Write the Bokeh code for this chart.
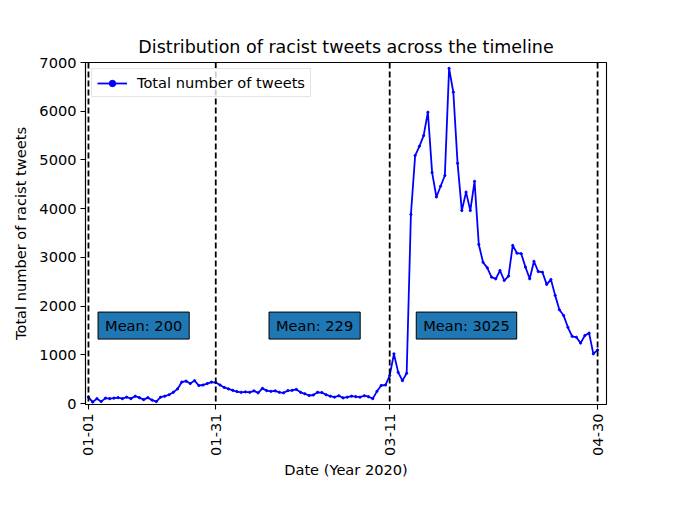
import numpy as np
from bokeh.plotting import figure
from bokeh.models import Span, Label, FixedTicker, Range1d
from bokeh.embed import file_html
from bokeh.resources import INLINE

# Daily number of racist tweets, 2020-01-01 .. 2020-04-30
tweets = [
    130, 30, 100, 40, 110, 100, 110, 120, 100, 130, 100, 150, 120, 80, 120, 70,
    40, 130, 150, 180, 230, 300, 440, 460, 410, 470, 370, 380, 410, 440, 430,
    380, 330, 300, 270, 245, 230, 240, 230, 260, 220,
    310, 265, 250, 260, 230, 220, 265, 270, 290, 230,
    200, 165, 175, 230, 225, 180, 150, 130, 160, 115,
    130, 150, 140, 130, 160, 140, 100, 250, 370, 380,
    575, 1020, 640, 470, 620, 3880, 5090, 5280, 5500, 5980,
    4740, 4240, 4460, 4680, 6880, 6390, 4930, 3960, 4340, 3960,
    4560, 3265, 2900, 2785, 2595, 2560, 2730, 2525, 2615, 3245,
    3085, 3075, 2800, 2560, 2920, 2710, 2695, 2445, 2545, 2220,
    1925, 1805, 1565, 1380, 1360, 1240, 1395, 1445, 1020, 1100,
]
day_index = list(range(len(tweets)))

tick_positions = [0, 30, 71, 120]
tick_labels = ["01-01", "01-31", "03-11", "04-30"]
boundary_days = [0, 30, 71, 120]

mean_texts = ["Mean: 200", "Mean: 229", "Mean: 3025"]
mean_x = [13, 53.3, 89.1]
mean_y = [1600, 1600, 1600]

FONT = "DejaVu Sans"
FS = "14.6px"

p = figure(
    width=665, height=497,
    frame_width=521, frame_height=342,
    min_border_left=85, min_border_right=59,
    min_border_top=62, min_border_bottom=93,
    x_range=Range1d(-0.7, 122.1), y_range=Range1d(-20, 7000),
    output_backend="svg", toolbar_location=None,
    title="Distribution of racist tweets across the timeline",
)

p.background_fill_color = "white"
p.border_fill_color = "white"
p.outline_line_color = "black"
p.outline_line_width = 1.1
p.xgrid.visible = False
p.ygrid.visible = False

p.title.text_font = FONT
p.title.text_font_size = "17.5px"
p.title.text_font_style = "normal"
p.title.align = "center"
p.title.text_color = "black"
p.title.standoff = 12

for ax in (p.xaxis[0], p.yaxis[0]):
    ax.major_label_text_font = FONT
    ax.major_label_text_font_size = FS
    ax.major_label_text_color = "black"
    ax.axis_label_text_font = FONT
    ax.axis_label_text_font_size = FS
    ax.axis_label_text_font_style = "normal"
    ax.axis_label_text_color = "black"
    ax.axis_line_color = "black"
    ax.axis_line_width = 1.1
    ax.major_tick_line_color = "black"
    ax.major_tick_line_width = 1.1
    ax.major_tick_out = 5
    ax.major_tick_in = 0
    ax.minor_tick_line_color = None

p.xaxis.ticker = FixedTicker(ticks=tick_positions)
p.xaxis.major_label_overrides = {t: l for t, l in zip(tick_positions, tick_labels)}
p.xaxis.major_label_orientation = np.pi / 2
p.xaxis.major_label_standoff = 4
p.xaxis.axis_label = "Date (Year 2020)"
p.xaxis.axis_label_standoff = 2

p.yaxis.ticker = FixedTicker(ticks=[0, 1000, 2000, 3000, 4000, 5000, 6000, 7000])
p.yaxis.axis_label = "Total number of racist tweets"
p.yaxis.major_label_orientation = "horizontal"
p.yaxis.major_label_standoff = 4
p.yaxis.axis_label_standoff = 7

for d in boundary_days:
    p.add_layout(Span(location=d, dimension="height", line_color="black",
                      line_dash="6 3", line_width=1.8))

p.line(day_index, tweets, line_color="#0000ff", line_width=1.8,
       legend_label="Total number of tweets")
p.scatter(day_index, tweets, size=2.2, fill_color="#0000ff", line_color="#0000ff",
          legend_label="Total number of tweets")

for txt, x, y in zip(mean_texts, mean_x, mean_y):
    p.add_layout(Label(
        x=x, y=y, text=txt, text_align="center", text_baseline="middle",
        text_font=FONT, text_font_size=FS, text_color="black",
        background_fill_color="#1f77b4", background_fill_alpha=1.0,
        border_line_color="black", border_line_width=1,
        padding=dict(left=7, right=7, top=5, bottom=5),
    ))

lg = p.legend[0]
lg.location = "top_left"
lg.margin = 6
lg.padding = 5
lg.spacing = 0
lg.glyph_width = 30
lg.glyph_height = 16
lg.label_standoff = 10
lg.label_text_font = FONT
lg.label_text_font_size = FS
lg.label_text_color = "black"
lg.label_height = 16
lg.border_line_color = "#cccccc"
lg.border_line_width = 1
lg.background_fill_color = "white"
lg.background_fill_alpha = 0.8

open("out.html", "w").write(file_html(p, INLINE))
